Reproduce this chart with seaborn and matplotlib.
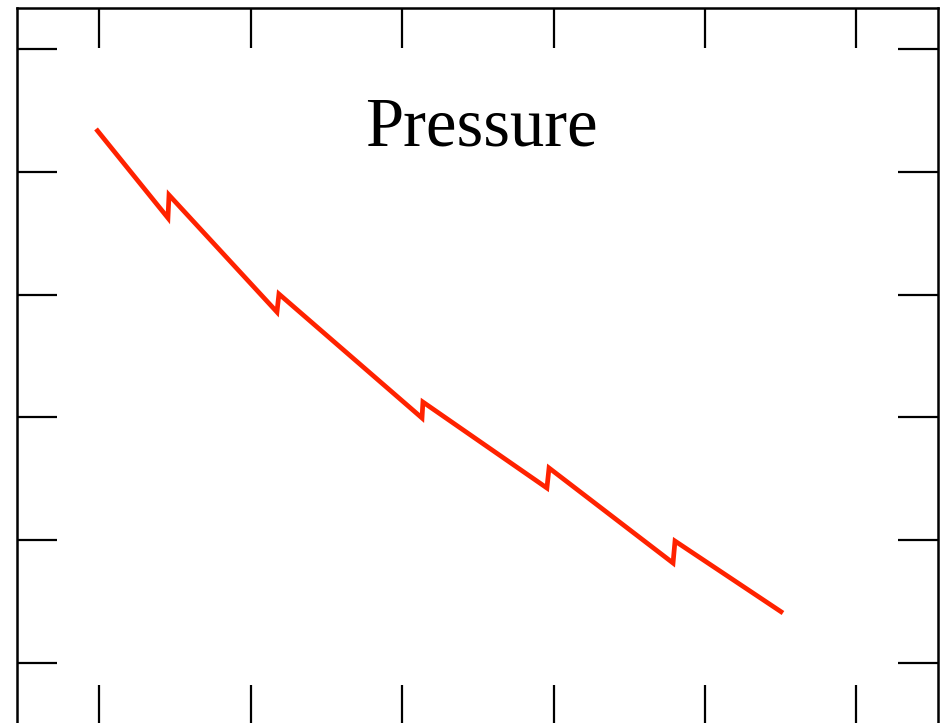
import matplotlib
matplotlib.use("Agg")
import matplotlib.pyplot as plt
import seaborn as sns
import pandas as pd

# Data (arbitrary units; axes carry no labels)
x_vals = [-0.022, 0.453, 0.460, 1.173, 1.186, 2.131, 2.137, 2.956, 2.970, 3.789, 3.802, 4.515]
pressure = [4.349, 3.624, 3.811, 2.858, 3.005, 1.995, 2.125, 1.425, 1.588, 0.814, 0.993, 0.407]
x_ticks = [0, 1, 2, 3, 4, 5]
y_ticks = [0, 1, 2, 3, 4, 5]
title_text = "Pressure"

sns.set_theme(style="white")
plt.rcParams['font.family'] = ['Liberation Serif', 'DejaVu Serif']

W, H = 946, 723
fig = plt.figure(figsize=(W / 100, H / 100), dpi=100)
left, right, top, bottom = 17, 938, 8, 725
ax = fig.add_axes([left / W, (H - bottom) / H, (right - left) / W, (bottom - top) / H])

df = pd.DataFrame({"x": x_vals, "p": pressure})
sns.lineplot(data=df, x="x", y="p", ax=ax, sort=False, estimator=None,
             color="#ff2200", linewidth=3.4)
for ln in ax.lines:
    ln.set_solid_joinstyle("miter")
    ln.set_solid_capstyle("butt")

ax.set_xlim(-0.544, 5.539)
ax.set_ylim(-0.505, 5.334)
ax.set_xticks(x_ticks)
ax.set_yticks(y_ticks)
ax.set_xticklabels([])
ax.set_yticklabels([])
ax.set_xlabel("")
ax.set_ylabel("")
ax.tick_params(axis="both", which="both", direction="in", length=29, width=1.6,
               color="black", top=True, bottom=True, left=True, right=True,
               labelbottom=False, labelleft=False)
for s in ax.spines.values():
    s.set_visible(True)
    s.set_color("black")
    s.set_linewidth(1.8)

fig.text(481 / W, 1 - 145 / H, title_text, ha="center", va="baseline",
         fontsize=49.5, color="black")

fig.savefig("out.png", dpi=100)
